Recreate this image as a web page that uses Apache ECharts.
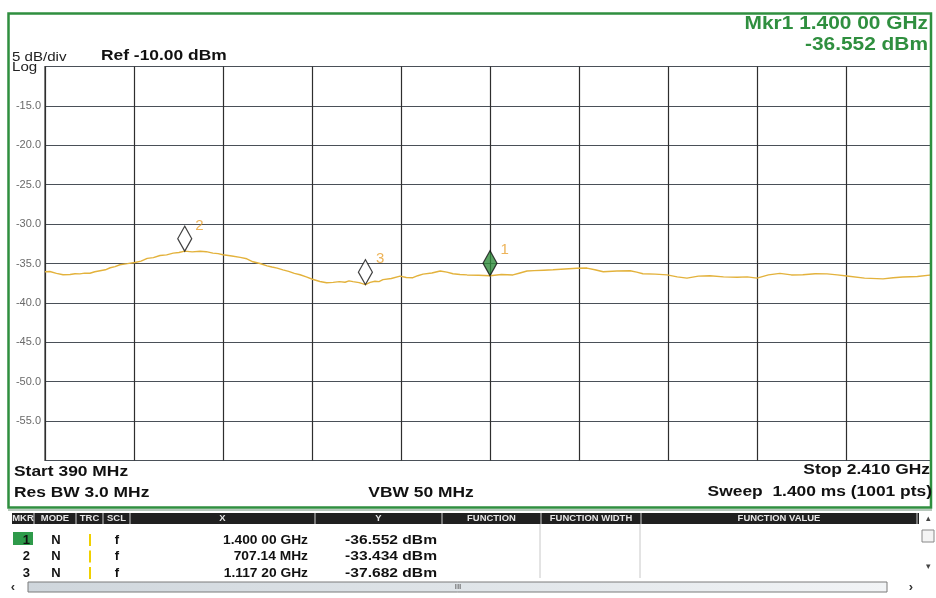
<!DOCTYPE html>
<html>
<head>
<meta charset="utf-8">
<title>Spectrum trace</title>
<script src="https://cdn.jsdelivr.net/npm/echarts@6/dist/echarts.min.js"></script>
<style>
  html, body { margin: 0; padding: 0; background: #ffffff; }
  #chart { width: 936px; height: 598px; }
</style>
</head>
<body>
<div id="chart"></div>
<script>
// Sweep settings
const startMHz = 390;
const stopMHz = 2410;
const refLevel = -10;
const dbPerDiv = 5;
const yTicks = [-60, -55, -50, -45, -40, -35, -30, -25, -20, -15, -10];

// Trace 1: [frequency MHz, level dBm]
const trace = [
  [390, -36.05], [401, -36.01], [416, -36.25], [431, -36.43], [447, -36.40],
  [458, -36.30], [469, -36.32], [480, -36.22], [492, -36.24], [503, -36.05],
  [515, -35.92], [527, -35.80], [538, -35.54], [549, -35.40], [560, -35.16],
  [577, -35.02], [594, -34.87], [608, -34.70], [622, -34.35], [636, -34.25],
  [651, -33.98], [666, -33.90], [681, -33.68], [694, -33.60], [707.14, -33.434],
  [724, -33.52], [742, -33.45], [756, -33.50], [771, -33.68], [783, -33.75],
  [794, -33.89], [814, -34.05], [833, -34.23], [848, -34.40], [862, -34.78],
  [878, -35.00], [894, -35.30], [905, -35.45], [917, -35.58], [930, -35.80],
  [943, -36.00], [956, -36.25], [969, -36.43], [983, -36.70], [997, -37.00],
  [1014, -37.28], [1029, -37.45], [1044, -37.40], [1058, -37.30], [1071, -37.38],
  [1080, -37.20], [1089, -37.30], [1103, -37.42], [1117.2, -37.682], [1128, -37.40],
  [1139, -37.25], [1148, -37.30], [1157, -37.05], [1176, -36.90], [1196, -36.60],
  [1210, -36.78], [1225, -36.80], [1236, -36.55], [1248, -36.35], [1268, -36.20],
  [1287, -35.95], [1302, -36.10], [1316, -36.30], [1332, -36.40], [1348, -36.45],
  [1374, -36.50], [1400, -36.552], [1426, -36.40], [1452, -36.45], [1468, -36.20],
  [1484, -35.95], [1500, -35.90], [1522, -35.85], [1543, -35.80], [1570, -35.70],
  [1597, -35.60], [1620, -35.58], [1638, -35.80], [1657, -36.05], [1688, -35.95],
  [1718, -35.92], [1733, -36.10], [1747, -36.30], [1775, -36.35], [1802, -36.45],
  [1825, -36.70], [1847, -36.85], [1873, -36.60], [1899, -36.55], [1930, -36.70],
  [1961, -36.75], [1984, -36.70], [2006, -36.85], [2032, -36.45], [2058, -36.25],
  [2084, -36.45], [2110, -36.42], [2138, -36.30], [2165, -36.32], [2188, -36.45],
  [2210, -36.58], [2250, -36.85], [2292, -36.95], [2315, -36.80], [2337, -36.72],
  [2370, -36.65], [2403, -36.45], [2410, -36.40]
];

// Markers
const markerIds = ['1', '2', '3'];
const markerFreqMHz = [1400, 707.14, 1117.2];
const markerLevel = [-36.552, -33.434, -37.682];
const markerX = ['1.400 00 GHz', '707.14 MHz', '1.117 20 GHz'];
const markerY = ['-36.552 dBm', '-33.434 dBm', '-37.682 dBm'];
const markerMode = ['N', 'N', 'N'];
const markerScale = ['f', 'f', 'f'];

// Marker table columns
const tableHeaders = ['MKR', 'MODE', 'TRC', 'SCL', 'X', 'Y', 'FUNCTION', 'FUNCTION WIDTH', 'FUNCTION VALUE'];
const tableColX = [13, 35, 77, 104, 131, 316, 443, 542, 642, 918];

const span = stopMHz - startMHz;
const divMHz = span / 10;

const FONT = '"Liberation Sans", Arial, sans-serif';
const GREEN = '#2f8f3f';
const ORANGE = '#e8a030';
const WIDE = 1.16;   // instrument font runs wider than Arial

const chart = echarts.init(document.getElementById('chart'), null, { renderer: 'canvas' });

// trace plotted against offset from start frequency so ticks land on every division
const traceData = trace.map(p => [p[0] - startMHz, p[1]]);
const markerData = markerFreqMHz.map((f, i) => ({
  value: [f - startMHz, markerLevel[i]],
  name: markerIds[i],
  itemStyle: { color: i === 0 ? '#2e8b3a' : '#ffffff', borderColor: '#111', borderWidth: 1.3 }
}));

const graphics = [];

// right margin cover beyond the frame
graphics.push({ type: 'rect', shape: { x: 932, y: 0, width: 10, height: 598 }, style: { fill: '#ffffff' }, z: 100, silent: true });

// instrument frame
graphics.push({ type: 'rect', shape: { x: 8.5, y: 13.5, width: 922.5, height: 494 },
  style: { fill: null, stroke: GREEN, lineWidth: 2.5 }, z: 101 });
graphics.push({ type: 'line', shape: { x1: 8, y1: 510, x2: 932, y2: 510 },
  style: { stroke: '#9fb6a6', lineWidth: 1.5 }, z: 101 });

// annotations
const txt = (x, y, text, opts, sx) => graphics.push(Object.assign({
  type: 'text', x, y, z: 110, scaleX: sx || 1,
  style: Object.assign({ text, font: '13px ' + FONT, fill: '#111', textVerticalAlign: 'middle' }, opts || {})
}));

txt(928, 24, 'Mkr1 1.400 00 GHz', { font: 'bold 18px ' + FONT, fill: GREEN, textAlign: 'right' }, WIDE);
txt(928, 45, '-36.552 dBm', { font: 'bold 18px ' + FONT, fill: GREEN, textAlign: 'right' }, WIDE);
txt(12, 57, dbPerDiv + ' dB/div', { font: '13px ' + FONT, fill: '#222' }, WIDE);
txt(12, 67.5, 'Log', { font: '13px ' + FONT, fill: '#222' }, WIDE);
txt(101, 56, 'Ref ' + refLevel.toFixed(2) + ' dBm', { font: 'bold 15px ' + FONT }, WIDE);

txt(14, 472, 'Start ' + startMHz + ' MHz', { font: 'bold 15px ' + FONT }, WIDE);
txt(14, 493, 'Res BW 3.0 MHz', { font: 'bold 15px ' + FONT }, WIDE);
txt(421, 493, 'VBW 50 MHz', { font: 'bold 15px ' + FONT, textAlign: 'center' }, WIDE);
txt(930, 470, 'Stop ' + (stopMHz / 1000).toFixed(3) + ' GHz', { font: 'bold 15px ' + FONT, textAlign: 'right' }, WIDE);
txt(932, 492, 'Sweep  1.400 ms (1001 pts)', { font: 'bold 15px ' + FONT, textAlign: 'right' }, WIDE);

// marker table header
graphics.push({ type: 'rect', shape: { x: 12, y: 513, width: 907, height: 11 }, style: { fill: '#202020' }, z: 105 });
tableHeaders.forEach((h, i) => {
  const x0 = tableColX[i], x1 = tableColX[i + 1] - 2;
  graphics.push({ type: 'line', shape: { x1: x1 + 1, y1: 513, x2: x1 + 1, y2: 524 }, style: { stroke: '#d0d0d0', lineWidth: 1 }, z: 106 });
  txt((x0 + x1) / 2, 519, h, { font: 'bold 9px ' + FONT, fill: '#e6e6e6', textAlign: 'center' }, 1.05);
});
// body separators
[540, 640].forEach(x => graphics.push({ type: 'line', shape: { x1: x, y1: 524, x2: x, y2: 578 }, style: { stroke: '#c8c8c8', lineWidth: 1 }, z: 105 }));

// marker rows
graphics.push({ type: 'rect', shape: { x: 13, y: 532, width: 20, height: 13 }, style: { fill: '#2e9a4a' }, z: 105 });
markerIds.forEach((id, i) => {
  const y = 540 + i * 16.5;
  txt(30, y, id, { font: 'bold 13px ' + FONT, textAlign: 'right' });
  txt(56, y, markerMode[i], { font: 'bold 13px ' + FONT, textAlign: 'center' });
  graphics.push({ type: 'rect', shape: { x: 89, y: y - 6, width: 2, height: 12 }, style: { fill: '#f0d000' }, z: 106 });
  txt(117, y, markerScale[i], { font: 'bold 13px ' + FONT, textAlign: 'center' });
  txt(308, y, markerX[i], { font: 'bold 13px ' + FONT, textAlign: 'right' }, 1.06);
  txt(437, y, markerY[i], { font: 'bold 13px ' + FONT, textAlign: 'right' }, 1.2);
});

// scroll bars
graphics.push({ type: 'rect', shape: { x: 28, y: 582, width: 859, height: 10 },
  style: { fill: new echarts.graphic.LinearGradient(0, 0, 1, 0, [
    { offset: 0, color: '#cfd6dc' }, { offset: 0.5, color: '#dfe4e8' }, { offset: 1, color: '#f2f4f6' }]),
    stroke: '#7a7a7a', lineWidth: 1 }, z: 105 });
txt(13, 587, '‹', { font: 'bold 13px ' + FONT, fill: '#333', textAlign: 'center' });
txt(458, 587, 'III', { font: '8px ' + FONT, fill: '#444', textAlign: 'center' });
txt(911, 587, '›', { font: 'bold 13px ' + FONT, fill: '#333', textAlign: 'center' });
txt(928, 519, '▴', { font: '9px ' + FONT, fill: '#444', textAlign: 'center' });
graphics.push({ type: 'rect', shape: { x: 922, y: 530, width: 12, height: 12 }, style: { fill: '#f4f4f4', stroke: '#888', lineWidth: 1 }, z: 105 });
txt(928, 567, '▾', { font: '9px ' + FONT, fill: '#444', textAlign: 'center' });

const option = {
  animation: false,
  backgroundColor: '#ffffff',
  grid: { left: 45, right: 1, top: 66.5, bottom: 137.5, show: true, borderColor: '#3a3a3a', borderWidth: 1.2 },
  xAxis: {
    type: 'value', min: 0, max: span, interval: divMHz,
    axisLine: { show: false }, axisTick: { show: false }, axisLabel: { show: false },
    splitLine: { show: true, lineStyle: { color: '#2e2e2e', width: 1.2 } }
  },
  yAxis: {
    type: 'value', min: yTicks[0], max: yTicks[yTicks.length - 1], interval: dbPerDiv,
    axisLine: { show: false }, axisTick: { show: false },
    axisLabel: {
      margin: 4, color: '#6a6a6a', fontFamily: FONT, fontSize: 11,
      formatter: v => (v === yTicks[0] || v === yTicks[yTicks.length - 1]) ? '' : v.toFixed(1)
    },
    splitLine: { show: true, lineStyle: { color: '#4a5058', width: 1.2 } }
  },
  series: [
    {
      type: 'line', data: traceData, showSymbol: false, smooth: false,
      lineStyle: { color: '#e3b23c', width: 1.4 }, z: 3
    },
    {
      type: 'scatter', data: markerData, symbol: 'diamond', symbolSize: [14, 25],
      symbolOffset: [0, '-50%'], z: 5,
      label: {
        show: true, formatter: p => p.name, position: 'right', offset: [-2, -13],
        color: ORANGE, fontFamily: FONT, fontSize: 15
      }
    }
  ],
  graphic: graphics
};
chart.setOption(option);
</script>
</body>
</html>
